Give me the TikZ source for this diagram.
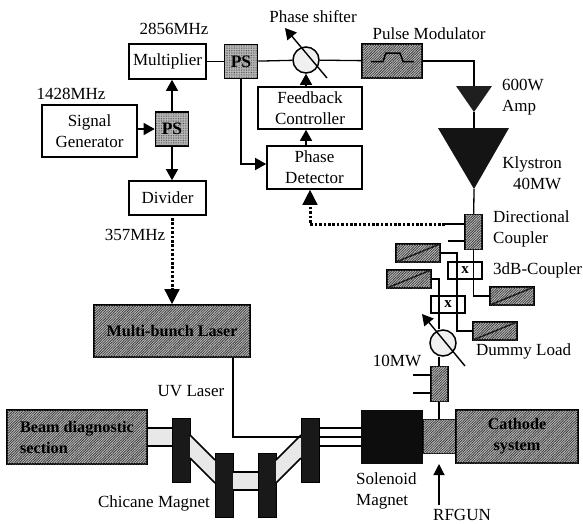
\documentclass[tikz,border=0pt]{standalone}
\usepackage{fontspec}
\setmainfont{Liberation Serif}
\usepackage{tikz}
\usetikzlibrary{arrows.meta, patterns.meta}
\tikzstyle{plain} = [rectangle, draw=black, line width=1.6pt, fill=white, align=center, inner sep=0pt, font=\fontsize{17}{21}\selectfont]
\tikzstyle{ps} = [plain, fill=gray!55, postaction={pattern={Dots[radius=.4pt,distance=1.7pt]}, pattern color=black!80}, font=\fontsize{17.5}{21}\selectfont\bfseries, minimum width=33pt, minimum height=34pt]
\tikzstyle{hatch} = [plain, fill=gray!50, postaction={pattern={Lines[angle=45,distance=1.8pt,line width=.8pt]}, pattern color=black!75}]
\tikzstyle{heavy} = [hatch, font=\fontsize{16.2}{21}\selectfont\bfseries]
\tikzstyle{dummy} = [hatch, minimum width=44pt, minimum height=18pt, path picture={\draw[line width=1.5pt] (path picture bounding box.south west) -- (path picture bounding box.north east);}]
\tikzstyle{magnet} = [rectangle, draw=black, fill=black!90, minimum width=18pt, minimum height=64pt, inner sep=0pt]
\tikzstyle{shifter} = [circle, draw=black, line width=1.5pt, fill=gray!12, minimum size=26pt, inner sep=0pt]
\tikzstyle{coupler} = [rectangle, draw=black, line width=1.3pt, fill=white, inner sep=0pt, font=\fontsize{15}{15}\selectfont\bfseries, minimum width=34pt, minimum height=17pt]
\tikzstyle{lbl} = [inner sep=0pt, align=center, font=\fontsize{17}{21}\selectfont]
\tikzstyle{wire} = [line width=1.3pt]
\tikzstyle{sig} = [line width=1.4pt, -{Triangle[length=11pt,width=12pt]}]
\tikzstyle{bigsig} = [line width=1.4pt, -{Triangle[length=15pt,width=15pt]}]
\tikzstyle{dots} = [line width=3pt, dash pattern=on 2.6pt off 1.8pt]
\tikzstyle{stub} = [line width=2.8pt]
\tikzstyle{beam} = [line width=1.6pt]
\begin{document}
\begin{tikzpicture}[x=1pt, y=-1pt]
\useasboundingbox (0,0) rectangle (583,523);

% rf chain, top row
\node (mult) [plain, minimum width=77pt, minimum height=35pt] at (167.5,61.5) {Multiplier};
\node (psa) [ps] at (241,61.5) {PS};
\node (sgen) [plain, minimum width=95pt, minimum height=52pt] at (89.5,131) {Signal\\Generator};
\node (psb) [ps] at (172,129) {PS};
\node (div) [plain, minimum width=77pt, minimum height=34pt] at (167.5,198) {Divider};
\node (fbc) [plain, minimum width=104pt, minimum height=42pt] at (310,108) {Feedback\\Controller};
\node (pdet) [plain, minimum width=95pt, minimum height=43pt] at (314.5,167.5) {Phase\\Detector};
\node (pmod) [hatch, minimum width=60pt, minimum height=34pt] at (392,61) {};
\node (shfa) [shifter] at (306,60) {};
\node (laser) [heavy, minimum width=156pt, minimum height=52pt] at (172,331) {Multi-bunch Laser};

% amplifiers
\coordinate (ampin) at (474,86);
\coordinate (ampout) at (474,112);
\coordinate (klyin) at (474,128);
\coordinate (klyout) at (474,189);
\fill[black!88] (456,86) -- (492,86) -- (ampout) -- cycle;
\fill[black!92] (438,128) -- (509,128) -- (klyout) -- cycle;

% couplers and loads
\node (dcpl) [hatch, line width=1.3pt, minimum width=17pt, minimum height=35pt] at (473.5,232) {};
\node (cplb) [coupler] at (465,270.5) {x};
\node (cplc) [coupler] at (448,304.5) {x};
\node (dla) [dummy] at (418,253) {};
\node (dlb) [dummy] at (409,279) {};
\node (dlc) [dummy] at (512,296) {};
\node (dld) [dummy] at (495,331) {};
\node (shfb) [shifter] at (443,343) {};
\node (ten) [hatch, line width=1.3pt, minimum width=17pt, minimum height=35pt] at (439.5,384) {};

% beam line
\node (diag) [heavy, minimum width=140pt, minimum height=54pt, align=left] at (77,437) {Beam diagnostic\\section};
\node (mga) [magnet] at (181,450) {};
\node (mgb) [magnet] at (224,485.5) {};
\node (mgc) [magnet] at (267,485.5) {};
\node (mgd) [magnet] at (310,450) {};
\node (sol) [rectangle, fill=black!95, minimum width=62pt, minimum height=54pt, inner sep=0pt] at (392,437) {};
\node (gun) [hatch, minimum width=33pt, minimum height=34pt] at (439.5,436.5) {};
\node (cath) [heavy, minimum width=122pt, minimum height=53pt] at (517,436.5) {Cathode\\system};

% rf connections
\draw[wire] (mult) -- (psa);
\draw[wire] (psa) -- (shfa);
\draw[wire] (shfa) -- (pmod);
\draw[wire] (pmod.east) -- (474,61) -- (ampin);
\draw[wire] (ampout) -- (klyin);
\draw[wire] (klyout) -- (dcpl);
\draw[sig] (psb) -- (mult.south -| psb);
\draw[sig] (sgen.east |- psb) -- (psb);
\draw[sig] (psb) -- (div.north -| psb);
\draw[sig] (psa.south) -- (241,164) -- (pdet.west |- 0,164);
\draw[sig] (pdet.north -| 306,0) -- (fbc.south -| 306,0);
\draw[sig] (fbc.north -| 306,0) -- (shfa);
\draw[sig] (327,78) -- (285,28);
\draw[dots] (172,218) -- (172,291);
\draw[bigsig] (172,288) -- (laser.north -| 172,0);
\draw[dots] (445,224) -- (310,224) -- (310,203);
\draw[bigsig] (310,205) -- (pdet.south -| 310,0);
\draw[stub] (dcpl.west |- 0,224) -- (445,224);
\draw[stub] (dcpl.west |- 0,241) -- (448,241);
\draw[stub] (ten.west |- 0,375) -- (413,375);
\draw[stub] (ten.west |- 0,393) -- (413,393);
\draw[wire] (dcpl) -- (473.5,296) -- (dlc);
\draw[wire] (dla) -- (457,253) -- (457,331) -- (dld);
\draw[wire] (dlb) -- (439,279) -- (shfb.north -| 439,0);
\draw[wire] (shfb.south -| 439,0) -- (ten.north -| 439,0);
\draw[wire] (ten.south -| 439,0) -- (gun.north -| 439,0);
\draw[sig] (465,366) -- (422,314);
\draw[line width=1.2pt, -{Triangle[length=11pt,width=11pt]}] (439,505) -- (439,464);

% beam pipe
\path[fill=gray!18] (diag.east |- 0,428) rectangle (mga.west |- 0,446);
\draw[beam] (diag.east |- 0,428) -- (mga.west |- 0,428);
\draw[beam] (diag.east |- 0,446) -- (mga.west |- 0,446);
\path[fill=gray!18] (190,435) -- (215,460) -- (215,483) -- (190,458) -- cycle;
\draw[beam] (190,435) -- (215,460);
\draw[beam] (190,458) -- (215,483);
\path[fill=gray!18] (233,472) rectangle (258,490);
\draw[beam] (233,472) -- (258,472);
\draw[beam] (233,490) -- (258,490);
\path[fill=gray!18] (276,460) -- (301,435) -- (301,458) -- (276,483) -- cycle;
\draw[beam] (276,460) -- (301,435);
\draw[beam] (276,483) -- (301,458);
\draw[beam] (mgd.east |- 0,428) -- (sol.west |- 0,428);
\draw[beam] (mgd.east |- 0,446) -- (sol.west |- 0,446);

% uv laser
\draw[line width=2.6pt] (laser.south -| 233,0) -- (233,437) -- (mgd.west |- 0,437);
\draw[line width=2.6pt] (mgd.east |- 0,437) -- (sol.west |- 0,437);

% labels
\node (l2856) [lbl] at (174,29) {2856MHz};
\node (l1428) [lbl] at (71,94) {1428MHz};
\node (l357) [lbl] at (135,235) {357MHz};
\node (lphs) [lbl] at (313,17) {Phase shifter};
\node (lpmod) [lbl] at (429,34) {Pulse Modulator};
\node (lamp) [lbl, align=left, anchor=west] at (502,97) {600W\\Amp};
\node (lkly) [lbl] at (532,173) {Klystron\\\hspace*{.6em}40MW};
\node (ldcp) [lbl, align=left, anchor=west] at (493,229) {Directional\\Coupler};
\node (l3db) [lbl, anchor=west] at (493,270) {3dB-Coupler};
\node (ldum) [lbl, anchor=west] at (476,351) {Dummy Load};
\node (l10) [lbl] at (397,361) {10MW};
\node (luv) [lbl] at (191,391) {UV Laser};
\node (lchi) [lbl] at (154,503) {Chicane Magnet};
\node (lsol) [lbl, align=left, anchor=west] at (356,491) {Solenoid\\Magnet};
\node (lrf) [lbl] at (462,515) {RFGUN};
% pulse symbol
\draw[line width=1.5pt] (371,61.5) -- (383,61.5) -- (386,53) -- (400,53) -- (403,61.5) -- (414,61.5);
\end{tikzpicture}
\end{document}
